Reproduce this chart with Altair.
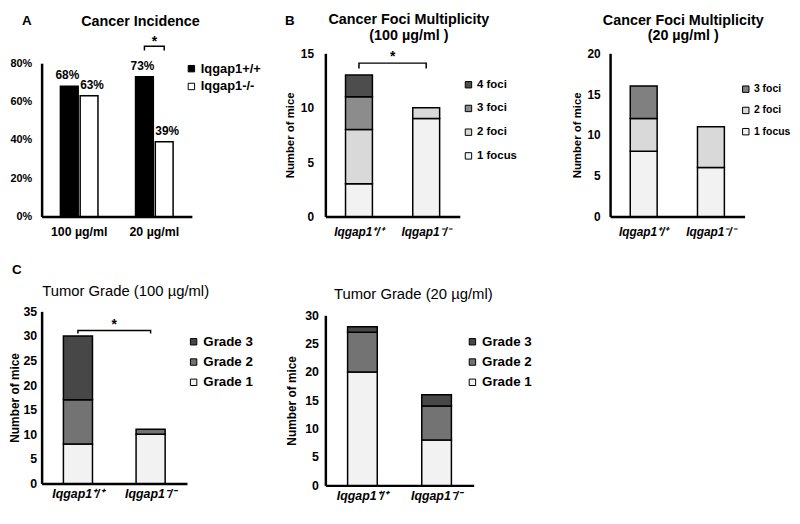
import altair as alt
import pandas as pd

FONT = "Liberation Sans"

# ---------------- data ----------------
# Panel A: cancer incidence
inc_dose = ["100 µg/ml", "100 µg/ml", "20 µg/ml", "20 µg/ml"]
inc_geno = ["Iqgap1+/+", "Iqgap1-/-", "Iqgap1+/+", "Iqgap1-/-"]
inc_value = [0.68, 0.63, 0.73, 0.39]
inc_label = ["68%", "63%", "73%", "39%"]
dose_order = ["100 µg/ml", "20 µg/ml"]
inc_geno_order = ["Iqgap1+/+", "Iqgap1-/-"]
inc_colors = ["#000000", "#ffffff"]
inc_ticks = [0, 0.2, 0.4, 0.6, 0.8]
inc_sig = [0.867, 0.888, 0.91]   # bracket foot, bracket top, star (data units)

geno = ["Iqgap1⁺/⁺", "Iqgap1⁻/⁻"]

# Panel B: cancer foci multiplicity
foci100_cats = ["1 focus", "2 foci", "3 foci", "4 foci"]
foci100_wt = [3, 5, 3, 2]
foci100_ko = [9, 1, 0, 0]
foci100_colors = ["#f2f2f2", "#d9d9d9", "#8c8c8c", "#4d4d4d"]
foci100_sig = [13.6, 14.1, 14.7]

foci20_cats = ["1 focus", "2 foci", "3 foci"]
foci20_wt = [8, 4, 4]
foci20_ko = [6, 5, 0]
foci20_colors = ["#f2f2f2", "#d9d9d9", "#808080"]

# Panel C: tumor grade
grade_cats = ["Grade 1", "Grade 2", "Grade 3"]
grade100_wt = [8, 9, 13]
grade100_ko = [10, 1, 0]
grade100_sig = [30.5, 31.1, 32.3]
grade20_wt = [20, 7, 1]
grade20_ko = [8, 6, 2]
grade_colors = ["#f2f2f2", "#737373", "#474747"]

titles = {
    "A": ["Cancer Incidence"],
    "B1": ["Cancer Foci Multiplicity", "(100 µg/ml )"],
    "B2": ["Cancer Foci Multiplicity", "(20 µg/ml )"],
    "C1": ["Tumor Grade (100 µg/ml)"],
    "C2": ["Tumor Grade (20 µg/ml)"],
}


def label_text(txt, x, y, size, weight="bold"):
    return alt.Chart(pd.DataFrame({"t": [txt]})).mark_text(
        font=FONT, fontSize=size, fontWeight=weight, color="black", align="center", baseline="middle"
    ).encode(text="t:N", x=alt.value(x), y=alt.value(y))


def title_layers(lines, x, y, size, weight, lh):
    return [label_text(t, x, y + i * lh, size, weight) for i, t in enumerate(lines)]


def spacer(w):
    return alt.Chart(pd.DataFrame({"s": [""]})).mark_text().encode(text="s:N").properties(width=w, height=10)


def legend(x, y, size, row):
    return alt.Legend(title=None, orient="none", legendX=x, legendY=y, padding=0,
                      symbolType="square", symbolSize=42, symbolStrokeColor="black",
                      symbolStrokeWidth=1, labelFont=FONT, labelFontSize=size,
                      labelFontWeight="bold", labelColor="black", labelOffset=3, rowPadding=row)


# ---------------- panel A ----------------
dfA = pd.DataFrame({"dose": inc_dose, "geno": inc_geno, "value": inc_value, "label": inc_label})
xA = alt.X("dose:N", sort=dose_order, scale=alt.Scale(paddingInner=0, paddingOuter=0),
           axis=alt.Axis(title=None, labelAngle=0, labelFontSize=12.5, labelPadding=9))
xoA = alt.XOffset("geno:N", sort=inc_geno_order, scale=alt.Scale(paddingInner=0.1, paddingOuter=0.95))
yA = alt.Y("value:Q", scale=alt.Scale(domain=[0, 0.8], range=[165, 10]),
           axis=alt.Axis(values=inc_ticks, format=".0%", title=None, labelFontSize=11, labelPadding=10))

barsA = alt.Chart(dfA).mark_bar(stroke="black", strokeWidth=1.5).encode(
    x=xA, xOffset=xoA, y=yA,
    fill=alt.Fill("geno:N", scale=alt.Scale(domain=inc_geno_order, range=inc_colors),
                  legend=legend(145, 9, 13, 4)),
)


def value_labels(g, dx):
    return alt.Chart(dfA).transform_filter(alt.datum.geno == g).mark_text(
        baseline="bottom", dy=-4, dx=dx, font=FONT, fontWeight="bold", fontSize=12, color="black"
    ).encode(x=xA, xOffset=xoA, y=yA, text="label:N")


dfA_br = pd.DataFrame({"dose": [dose_order[1]] * 4,
                       "geno": [inc_geno_order[0], inc_geno_order[0], inc_geno_order[1], inc_geno_order[1]],
                       "value": [inc_sig[0], inc_sig[1], inc_sig[1], inc_sig[0]],
                       "o": [0, 1, 2, 3]})
bracketA = alt.Chart(dfA_br).mark_line(color="black", strokeWidth=1.5).encode(
    x=xA, xOffset=xoA, y=yA, order="o:Q")
starA = alt.Chart(pd.DataFrame({"dose": [dose_order[1]], "value": [inc_sig[2]], "t": ["*"]})).mark_text(
    font=FONT, fontSize=14, fontWeight="bold", color="black", baseline="middle").encode(
    x=xA, y=yA, text="t:N")

panelA = alt.layer(barsA, value_labels(inc_geno_order[0], -2), value_labels(inc_geno_order[1], 3),
                   bracketA, starA,
                   *title_layers(titles["A"], 100, -32, 14.5, "bold", 17),
                   label_text("A", -15, -33, 13.5)).properties(width=152, height=165)


# ---------------- stacked panels ----------------
def stacked_panel(cats, wt, ko, colors, ymax, yvals, width, height, yrange, title_lines, tx, ty,
                  title_weight, title_size, title_lh, legend_x, legend_y, legend_size, legend_row,
                  lab_size, lab_pad, xlab_pad, ytitle_size, ytitle_pad, sig=None, let=None):
    rows = []
    for i, c in enumerate(cats):
        for g, v in zip(geno, [wt[i], ko[i]]):
            if v > 0:
                rows.append({"geno": g, "cat": c, "n": v, "ord": i})
    df = pd.DataFrame(rows)
    x = alt.X("geno:N", sort=geno, scale=alt.Scale(paddingInner=0.6, paddingOuter=0.3),
              axis=alt.Axis(title=None, labelAngle=0, labelFontStyle="italic", labelFontSize=lab_size,
                            labelPadding=xlab_pad))
    y = alt.Y("n:Q", scale=alt.Scale(domain=[0, ymax], range=yrange),
              axis=alt.Axis(values=yvals, title="Number of mice", labelFontSize=lab_size,
                            labelPadding=lab_pad, titleFontSize=ytitle_size, titlePadding=ytitle_pad))
    bars = alt.Chart(df).mark_bar(stroke="black", strokeWidth=1.5).encode(
        x=x, y=y,
        fill=alt.Fill("cat:N", scale=alt.Scale(domain=cats[::-1], range=colors[::-1]),
                      legend=legend(legend_x, legend_y, legend_size, legend_row)),
        order=alt.Order("ord:Q", sort="ascending"),
    )
    layers = [bars]
    if sig is not None:
        dbr = pd.DataFrame({"geno": [geno[0], geno[0], geno[1], geno[1]],
                            "n": [sig[0], sig[1], sig[1], sig[0]], "o": [0, 1, 2, 3]})
        layers.append(alt.Chart(dbr).mark_line(color="black", strokeWidth=1.5).encode(
            x=x, y=y, order="o:Q"))
        step = width / 2.0
        layers.append(alt.Chart(pd.DataFrame({"geno": [geno[0]], "n": [sig[2]], "t": ["*"]})).mark_text(
            font=FONT, fontSize=14, fontWeight="bold", color="black", baseline="middle", dx=step / 2
        ).encode(x=x, y=y, text="t:N"))
    layers += title_layers(title_lines, tx, ty, title_size, title_weight, title_lh)
    if let is not None:
        layers.append(label_text(let[0], let[1], let[2], 13.5))
    return alt.layer(*layers).properties(width=width, height=height)


panelB1 = stacked_panel(foci100_cats, foci100_wt, foci100_ko, foci100_colors, 15, [0, 5, 10, 15],
                        136, 165, [165, 0], titles["B1"], 84.5, -34, "bold", 14.5, 17,
                        139, 26, 11.5, 11, 12, 12, 10, 11.5, 5, sig=foci100_sig, let=("B", -36, -33))
panelB2 = stacked_panel(foci20_cats, foci20_wt, foci20_ko, foci20_colors, 20, [0, 5, 10, 15, 20],
                        136, 165, [165, 0], titles["B2"], 74, -33, "bold", 14.5, 16,
                        132, 31, 10.5, 10.5, 12, 10, 10, 11.5, 5)
panelC1 = stacked_panel(grade_cats, grade100_wt, grade100_ko, grade_colors, 35,
                        [0, 5, 10, 15, 20, 25, 30, 35], 147, 174, [174, 0], titles["C1"], 85, -21,
                        "normal", 15, 17, 147, 24, 13.5, 5.5, 12.5, 5, 4, 12, 1,
                        sig=grade100_sig, let=("C", -25, -42))
panelC2 = stacked_panel(grade_cats, grade20_wt, grade20_ko, grade_colors, 30,
                        [0, 5, 10, 15, 20, 25, 30], 150, 176, [176, 4], titles["C2"], 89, -18,
                        "normal", 15, 17, 142, 24, 13.5, 5.5, 12.5, 7, 4, 12, 6)

chart = alt.concat(
    panelA, spacer(111), panelB1, spacer(138), panelB2,
    panelC1, spacer(135), panelC2,
    columns=5, spacing={"row": 96, "column": 0}, align="none", bounds="flush",
).resolve_scale(fill="independent").properties(padding=0).configure_view(
    stroke="transparent").configure_axis(
    domainColor="black", domainWidth=2.5, ticks=False, grid=False, labelColor="black", labelFont=FONT,
    labelFontWeight="bold", titleColor="black", titleFont=FONT, titleFontWeight="bold")

chart.save("out.html", embed_options={"renderer": "svg", "actions": False})
